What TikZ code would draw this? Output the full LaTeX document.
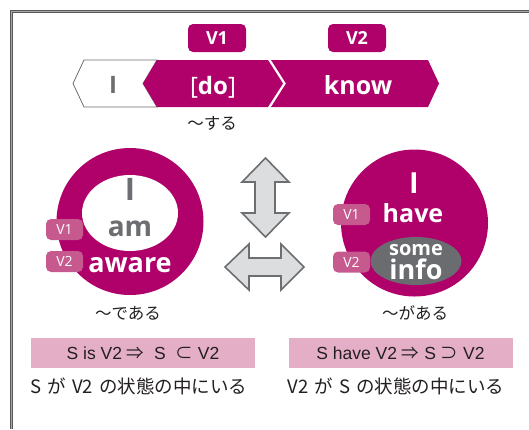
\documentclass[tikz,border=0pt]{standalone}
\usepackage{fontspec}
\setmainfont{Open Sans}
\newfontfamily\cjk{Noto Sans CJK JP}
\newfontfamily\lib{Liberation Sans}
\usetikzlibrary{shapes.geometric}
\newcommand\fsz[1]{\fontsize{#1}{#1}\selectfont}
\definecolor{mag}{HTML}{B0006A}
\definecolor{lab}{HTML}{C65A8E}
\definecolor{pinkbox}{HTML}{E4AFC6}
\definecolor{grayt}{HTML}{6D6E71}
\definecolor{arrfill}{HTML}{DCDDDF}
\definecolor{ellgray}{HTML}{6B6C70}
\definecolor{ink}{HTML}{231F20}
\begin{document}
\begin{tikzpicture}[x=1pt,y=-1pt,
  txt/.style={inner sep=0pt, anchor=base},
  vtop/.style={fill=mag, rounded corners=5pt, minimum width=58pt, minimum height=28pt, inner sep=0pt, text=white, font=\bfseries\fsz{18}},
  vcirc/.style={fill=lab, rounded corners=5pt, minimum width=37pt, minimum height=21pt, inner sep=0pt, text=white, font=\fsz{14}},
  pbox/.style={fill=pinkbox, minimum width=224pt, minimum height=30pt, inner sep=0pt, text=ink, font=\lib\fsz{17.5}},
  jtxt/.style={inner sep=0pt, text=ink, font=\cjk\fsz{16.5}},
  dbl/.style={fill=arrfill, draw=grayt, line width=1.6pt, line join=miter}
]
\useasboundingbox (0,0) rectangle (529,429);
% frame
\draw[line width=3.4pt, color=black!65] (529,11.5) -- (11.5,11.5) -- (11.5,429);
\draw[line width=1.1pt, color=black!35] (529,11.5) -- (11.5,11.5) -- (11.5,429);

% top labels
\node[vtop] (v1top) at (217,38) {V1};
\node[vtop] (v2top) at (357,38) {V2};

% chevrons
\draw[grayt, line width=0.8pt, fill=white] (84,60) -- (157,60) -- (143,83.5) -- (157,107) -- (84,107) -- (73,83.5) -- cycle;
\fill[mag] (157,60) -- (268,60) -- (283,83.5) -- (268,107) -- (157,107) -- (143,83.5) -- cycle;
\fill[mag] (271,60) -- (428,60) -- (439,83.5) -- (428,107) -- (271,107) -- (286,83.5) -- cycle;
\node[txt, text=grayt, font=\bfseries\fsz{24}] (subj) at (113,93) {I};
\node[txt, text=white, font=\fsz{24}] (do) at (213,94) {[{\bfseries do}]};
\node[txt, text=white, font=\bfseries\fsz{25}] (know) at (358,94) {know};
\node[jtxt] (suru) at (212,123) {～する};

% left circle
\node[circle, fill=mag, minimum size=147pt, inner sep=0pt] (lc) at (130,221.5) {};
\node[ellipse, fill=white, minimum width=96pt, minimum height=76pt, inner sep=0pt] (lw) at (130,213) {};
\node[txt, text=grayt, font=\bfseries\fsz{31}] (li) at (130,200) {I};
\node[txt, text=grayt, font=\bfseries\fsz{28}] (lam) at (130,236) {am};
\node[txt, text=white, font=\bfseries\fsz{27}] (law) at (130,272) {aware};
\node[vcirc] (lv1) at (64.5,229.5) {V1};
\node[vcirc] (lv2) at (64.5,261.5) {V2};
\node[jtxt] (dearu) at (128,313) {～である};

% right circle
\node[circle, fill=mag, minimum size=147pt, inner sep=0pt] (rc) at (414.5,223) {};
\node[ellipse, fill=ellgray, minimum width=91pt, minimum height=48pt, inner sep=0pt] (re) at (416,261) {};
\node[txt, text=white, font=\bfseries\fsz{29}] (ri) at (414,193) {I};
\node[txt, text=white, font=\bfseries\fsz{25}] (rhave) at (413,222) {have};
\node[txt, text=white, font=\bfseries\fsz{20}] (rsome) at (416,255) {some};
\node[txt, text=white, font=\bfseries\fsz{27}] (rinfo) at (416,279) {info};
\node[vcirc] (rv1) at (351.5,214.5) {V1};
\node[vcirc] (rv2) at (351.5,262) {V2};
\node[jtxt] (gaaru) at (415,313) {～がある};

% double arrows
\draw[dbl] (265.5,158) -- (289,182) -- (275,182) -- (275,213) -- (289,213) -- (265.5,237)
  -- (242,213) -- (255,213) -- (255,182) -- (242,182) -- cycle;
\draw[dbl] (225,267) -- (249,244) -- (249,258) -- (281,258) -- (281,244) -- (304,267)
  -- (281,290) -- (281,276) -- (249,276) -- (249,290) -- cycle;

% formula boxes
\node[pbox] (pl) at (143,353) {S is V2 {\cjk ⇒}\ \ S\ \ {\cjk ⊂} V2};
\node[pbox] (pr) at (400.5,353) {S have V2 {\cjk ⇒} S {\cjk ⊃} V2};
\node[jtxt, font=\cjk\fsz{18.5}] (bl) at (139,386) {S\hspace{6pt}が\hspace{6pt}V2\hspace{6pt}の状態の中にいる};
\node[jtxt, font=\cjk\fsz{18.5}] (br) at (396,386) {V2\hspace{6pt}が\hspace{6pt}S\hspace{6pt}の状態の中にいる};
\end{tikzpicture}
\end{document}
